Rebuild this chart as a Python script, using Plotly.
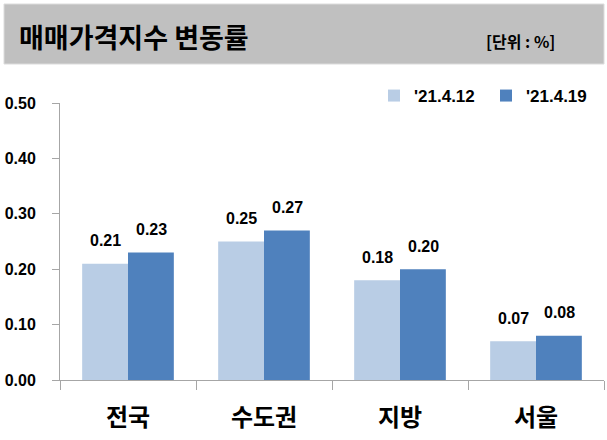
import plotly.graph_objects as go

categories = ["전국", "수도권", "지방", "서울"]
series_names = ["'21.4.12", "'21.4.19"]
values_0412 = [0.21, 0.25, 0.18, 0.07]
values_0419 = [0.23, 0.27, 0.20, 0.08]
series_values = [values_0412, values_0419]
colors = ["#b9cde5", "#4f81bd"]
y_ticks = [0.0, 0.1, 0.2, 0.3, 0.4, 0.5]
title_text = "매매가격지수 변동률"
unit_text = "[단위 : %]"

W, H = 607, 440
L, R, T, B = 60, 3, 103, 60
pw, ph = W - L - R, H - T - B

def px_x(px):
    return (px - L) / pw

def px_y(py):
    return (H - B - py) / ph

NUM_FONT = "Liberation Sans, Arial, sans-serif"
KR_FONT = "Noto Sans CJK KR, sans-serif"

fig = go.Figure()
for name, vals, col in zip(series_names, series_values, colors):
    fig.add_trace(go.Bar(
        x=categories, y=vals, name=name,
        marker=dict(color=col, line=dict(width=0)),
    ))

annotations = []
offsets = [-23, 23]
for vals, off in zip(series_values, offsets):
    for c, v in zip(categories, vals):
        annotations.append(dict(
            x=c, y=v, xref="x", yref="y", text=f"{v:.2f}",
            showarrow=False, xshift=off, yshift=23, yanchor="middle",
            font=dict(family=NUM_FONT, size=16, color="#000000", weight="bold"),
        ))

annotations.append(dict(
    x=px_x(17), y=px_y(37), xref="paper", yref="paper", text=title_text,
    showarrow=False, xanchor="left", yanchor="middle",
    font=dict(family=KR_FONT, size=27, color="#000000", weight="bold"),
))
annotations.append(dict(
    x=px_x(557), y=px_y(41), xref="paper", yref="paper", text=unit_text,
    showarrow=False, xanchor="right", yanchor="middle",
    font=dict(family=KR_FONT, size=16, color="#000000", weight="bold"),
))

shapes = [dict(
    type="rect", xref="paper", yref="paper",
    x0=px_x(4), x1=px_x(604), y0=px_y(64), y1=px_y(4),
    fillcolor="#c0c0c0", line=dict(color="#dcdcdc", width=1), layer="below",
)]

fig.update_layout(
    width=W, height=H,
    margin=dict(l=L, r=R, t=T, b=B, autoexpand=False),
    paper_bgcolor="#ffffff", plot_bgcolor="#ffffff",
    barmode="group", bargap=0.326, bargroupgap=0,
    showlegend=True,
    legend=dict(
        orientation="h", x=px_x(374), xanchor="left", y=px_y(96), yanchor="middle",
        font=dict(family=NUM_FONT, size=17, color="#000000", weight="bold"),
        entrywidth=67, entrywidthmode="pixels", bgcolor="rgba(0,0,0,0)",
    ),
    xaxis=dict(
        showline=True, linecolor="#a6a6a6", linewidth=1,
        ticks="outside", tickson="boundaries", ticklen=9, tickcolor="#a6a6a6",
        tickfont=dict(family=KR_FONT, size=24, color="#000000", weight="bold"),
        ticklabelstandoff=16, showgrid=False, zeroline=False,
    ),
    yaxis=dict(
        range=[0, 0.5], tickvals=y_ticks, ticktext=[f"{t:.2f}" for t in y_ticks],
        showline=True, linecolor="#a6a6a6", linewidth=1,
        ticks="outside", ticklen=7, tickcolor="#a6a6a6",
        tickfont=dict(family=NUM_FONT, size=16, color="#000000", weight="bold"),
        ticklabelstandoff=13, showgrid=False, zeroline=False,
    ),
    annotations=annotations, shapes=shapes,
)

fig.write_html("out.html")
